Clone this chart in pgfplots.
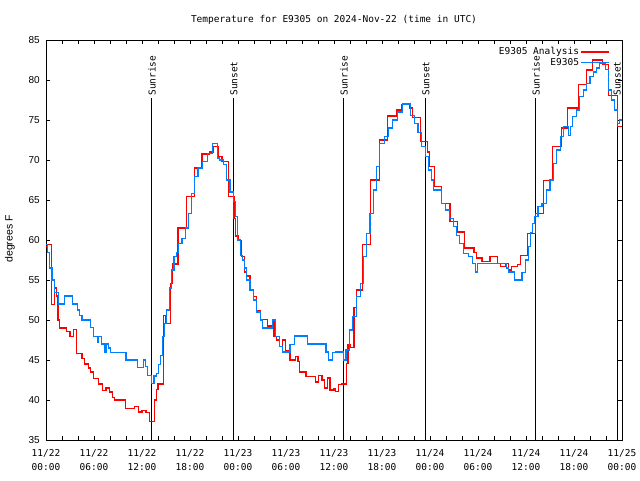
\documentclass[border=0pt]{standalone}
\usepackage{fontspec}
\setmainfont{DejaVu Sans Mono}
\newfontfamily\ysans{Liberation Sans}
\usepackage{pgfplots}
\pgfplotsset{compat=1.18}
\definecolor{obsblue}{RGB}{0,128,255}
\begin{document}
\begin{tikzpicture}
\path[use as bounding box] (0pt,0pt) rectangle (640pt,480pt);
\begin{axis}[
  at={(46pt,40pt)}, anchor=south west,
  scale only axis, width=576pt, height=400pt,
  xmin=0, xmax=72, ymin=35, ymax=85,
  axis line style={line width=0.9pt},
  tick align=inside, major tick length=4pt, minor tick length=4pt,
  tick style={black, line width=0.8pt},
  xtick={0,6,...,72},
  minor xtick={2,4,8,10,14,16,20,22,26,28,32,34,38,40,44,46,50,52,56,58,62,64,68,70},
  xticklabels={{11/22\\00:00},{11/22\\06:00},{11/22\\12:00},{11/22\\18:00},{11/23\\00:00},{11/23\\06:00},{11/23\\12:00},{11/23\\18:00},{11/24\\00:00},{11/24\\06:00},{11/24\\12:00},{11/24\\18:00},{11/25\\00:00}},
  xticklabel style={align=center, anchor=north, inner sep=0pt, yshift=-9pt, font=\fontsize{9.5}{14}\selectfont},
  ytick={35,40,...,85},
  yticklabel style={font=\ysans\fontsize{10}{12}\selectfont, inner sep=0pt, xshift=-6pt},
  /pgf/number format/assume math mode=true,
  legend plot pos=right,
  legend cell align=right,
  legend style={at={(rel axis cs:0.979,0.985)}, anchor=north east, draw=none, fill=none,
    font=\fontsize{9.5}{11}\selectfont, row sep=-1pt, inner sep=0pt,
    nodes={inner sep=1.5pt}},
  clip=false,
]
% sunrise / sunset lines
\addplot[black, line width=1pt, forget plot] coordinates {(13.25,35) (13.25,77.75)};
\addplot[black, line width=1pt, forget plot] coordinates {(23.5,35) (23.5,77.75)};
\addplot[black, line width=1pt, forget plot] coordinates {(37.25,35) (37.25,77.75)};
\addplot[black, line width=1pt, forget plot] coordinates {(47.5,35) (47.5,77.75)};
\addplot[black, line width=1pt, forget plot] coordinates {(61.25,35) (61.25,77.75)};
\addplot[black, line width=1pt, forget plot] coordinates {(71.4,35) (71.4,77.75)};
\node[rotate=90, anchor=west, inner sep=1pt, font=\fontsize{9.5}{11}\selectfont] at (axis cs:13.25,77.9) {Sunrise};
\node[rotate=90, anchor=west, inner sep=1pt, font=\fontsize{9.5}{11}\selectfont] at (axis cs:23.5,77.9) {Sunset};
\node[rotate=90, anchor=west, inner sep=1pt, font=\fontsize{9.5}{11}\selectfont] at (axis cs:37.25,77.9) {Sunrise};
\node[rotate=90, anchor=west, inner sep=1pt, font=\fontsize{9.5}{11}\selectfont] at (axis cs:47.5,77.9) {Sunset};
\node[rotate=90, anchor=west, inner sep=1pt, font=\fontsize{9.5}{11}\selectfont] at (axis cs:61.25,77.9) {Sunrise};
\node[rotate=90, anchor=west, inner sep=1pt, font=\fontsize{9.5}{11}\selectfont] at (axis cs:71.4,77.9) {Sunset};
% analysis (red)
\addplot[red, line width=1.2pt, const plot,
  legend image code/.code={\draw[red, line width=1.2pt] (0pt,0pt) -- (28pt,0pt);}] coordinates {
(0,59.2) (0.2,59.4) (0.7,51.9) (1.1,54.0) (1.3,53.0) (1.5,50.0) (1.7,49.0) (2.6,48.6) (3.0,47.9) (3.4,48.8) (3.8,45.8) (4.5,45.2) (4.8,44.5) (5.3,44.0) (5.6,43.5) (5.9,42.7) (6.6,42.0) (7.1,41.2) (7.5,41.5) (7.9,41.0) (8.3,40.3) (8.6,40.0) (9.9,38.9) (11.1,39.2) (11.6,38.5) (12.0,38.7) (12.5,38.4) (12.9,37.3) (13.6,40.0) (13.8,41.3) (14.0,42.0) (14.7,50.6) (14.9,49.6) (15.6,54.6) (15.8,57.0) (16.5,61.5) (17.6,65.4) (18.6,69.0) (19.5,70.75) (20.4,71.0) (20.9,71.7) (21.5,70.4) (22.0,69.8) (22.8,65.4) (23.5,62.7) (23.7,60.5) (24.0,59.9) (24.4,57.9) (24.8,56.0) (25.1,55.5) (25.5,53.7) (25.9,52.9) (26.3,51.2) (26.8,50.1) (27.7,49.25) (28.3,50.0) (28.5,47.9) (28.8,47.5) (29.2,46.7) (29.6,47.5) (29.9,46.2) (30.5,45.0) (31.2,45.4) (31.5,44.8) (31.7,43.5) (32.5,42.9) (33.7,42.25) (34.1,43.1) (34.5,42.5) (34.85,41.5) (35.2,42.75) (35.5,41.25) (36.0,41.4) (36.2,41.1) (36.6,41.9) (37.0,42.0) (37.6,44.6) (37.75,46.9) (38.0,46.6) (38.5,51.6) (38.8,53.75) (39.6,59.4) (40.6,67.5) (41.7,72.5) (42.7,75.5) (43.8,76.25) (44.5,76.9) (45.4,76.5) (45.8,75.3) (46.8,72.3) (47.7,71.0) (47.9,69.2) (48.6,66.7) (49.4,64.6) (50.5,62.3) (51.4,61.0) (52.3,59.0) (53.5,58.4) (53.8,57.75) (54.5,57.3) (55.5,57.9) (56.4,57.1) (56.8,56.7) (57.5,57.1) (57.8,56.25) (58.2,56.7) (58.9,56.9) (59.3,58.1) (60.2,60.8) (61.2,63.3) (62.2,67.4) (63.3,71.7) (64.4,74.0) (65.2,76.5) (66.6,79.4) (67.6,81.25) (68.3,82.5) (69.6,81.9) (70.3,78.1) (71.4,74.2) (72.0,74.2)
};
\addlegendentry{E9305 Analysis}
% observations (blue)
\addplot[obsblue, line width=1.2pt, const plot,
  legend image code/.code={\draw[obsblue, line width=1.2pt] (0pt,0pt) -- (28pt,0pt);}] coordinates {
(0,59.4) (0.2,58.4) (0.45,56.5) (0.75,55.0) (1.1,53.4) (1.6,52.0) (2.3,53.0) (3.3,52.0) (3.9,51.25) (4.2,50.6) (4.5,50.0) (5.6,49.1) (5.9,47.9) (6.4,47.2) (6.6,47.9) (6.9,47.0) (7.3,46.0) (7.5,47.0) (7.8,46.5) (8.1,45.9) (10.0,45.0) (11.4,44.1) (12.2,45.0) (12.4,44.2) (12.7,43.1) (13.2,42.1) (13.5,43.0) (13.8,43.3) (14.1,44.4) (14.3,45.6) (14.6,47.9) (14.8,49.6) (15.1,51.25) (15.4,54.0) (15.7,56.25) (16.0,57.9) (16.3,58.4) (16.6,59.6) (17.0,60.2) (17.4,61.5) (17.8,63.3) (18.2,65.8) (18.6,67.9) (19.0,69.0) (19.6,69.8) (20.2,70.8) (20.8,72.1) (21.4,70.25) (21.7,70.0) (22.2,69.4) (22.6,67.5) (23.0,66.0) (23.4,64.8) (23.7,62.9) (23.9,60.0) (24.3,58.1) (24.6,57.5) (24.8,56.5) (25.1,55.0) (25.5,53.75) (25.9,52.5) (26.3,51.0) (26.8,50.0) (27.1,49.0) (28.3,50.0) (28.7,47.9) (29.2,46.7) (29.6,46.0) (30.5,46.9) (31.1,48.0) (32.7,47.0) (35.0,46.0) (35.3,45.0) (35.8,45.9) (36.2,46.0) (37.2,45.0) (37.5,46.25) (37.9,48.75) (38.3,50.4) (38.8,52.9) (39.3,54.6) (39.7,57.9) (40.1,60.8) (40.5,63.3) (40.9,66.25) (41.3,69.2) (41.7,72.1) (42.3,72.9) (42.8,74.0) (43.3,75.0) (43.9,76.0) (44.6,77.0) (45.6,75.6) (46.1,74.6) (46.5,73.4) (46.9,71.7) (47.4,70.4) (47.8,68.75) (48.2,67.5) (48.4,66.25) (49.4,64.6) (49.9,63.75) (50.4,62.7) (50.9,61.7) (51.3,60.6) (51.7,59.6) (52.2,58.3) (52.8,57.9) (53.3,57.1) (53.7,56.0) (53.95,57.1) (57.6,56.5) (57.8,56.0) (58.6,55.0) (59.5,55.9) (59.9,57.5) (60.3,59.2) (60.6,60.9) (60.8,62.1) (61.1,62.9) (61.5,64.2) (62.0,64.6) (62.6,66.25) (63.0,67.5) (63.4,69.6) (63.8,71.25) (64.3,72.9) (64.7,74.2) (65.3,73.1) (65.6,74.2) (65.8,75.4) (66.3,76.25) (66.7,77.9) (67.2,78.75) (67.6,79.6) (68.0,80.4) (68.4,81.0) (68.8,81.5) (69.2,82.1) (69.9,81.3) (70.3,78.75) (70.7,77.5) (71.1,76.25) (71.4,74.6) (71.7,75.0) (72.0,75.0)
};
\addlegendentry{E9305}
\end{axis}
\node[font=\fontsize{9.5}{11}\selectfont] at (334pt,460pt) {Temperature for E9305 on 2024-Nov-22 (time in UTC)};
\node[rotate=90, font=\ysans\fontsize{10.5}{12}\selectfont] at (10pt,241pt) {degrees F};
\end{tikzpicture}
\end{document}
